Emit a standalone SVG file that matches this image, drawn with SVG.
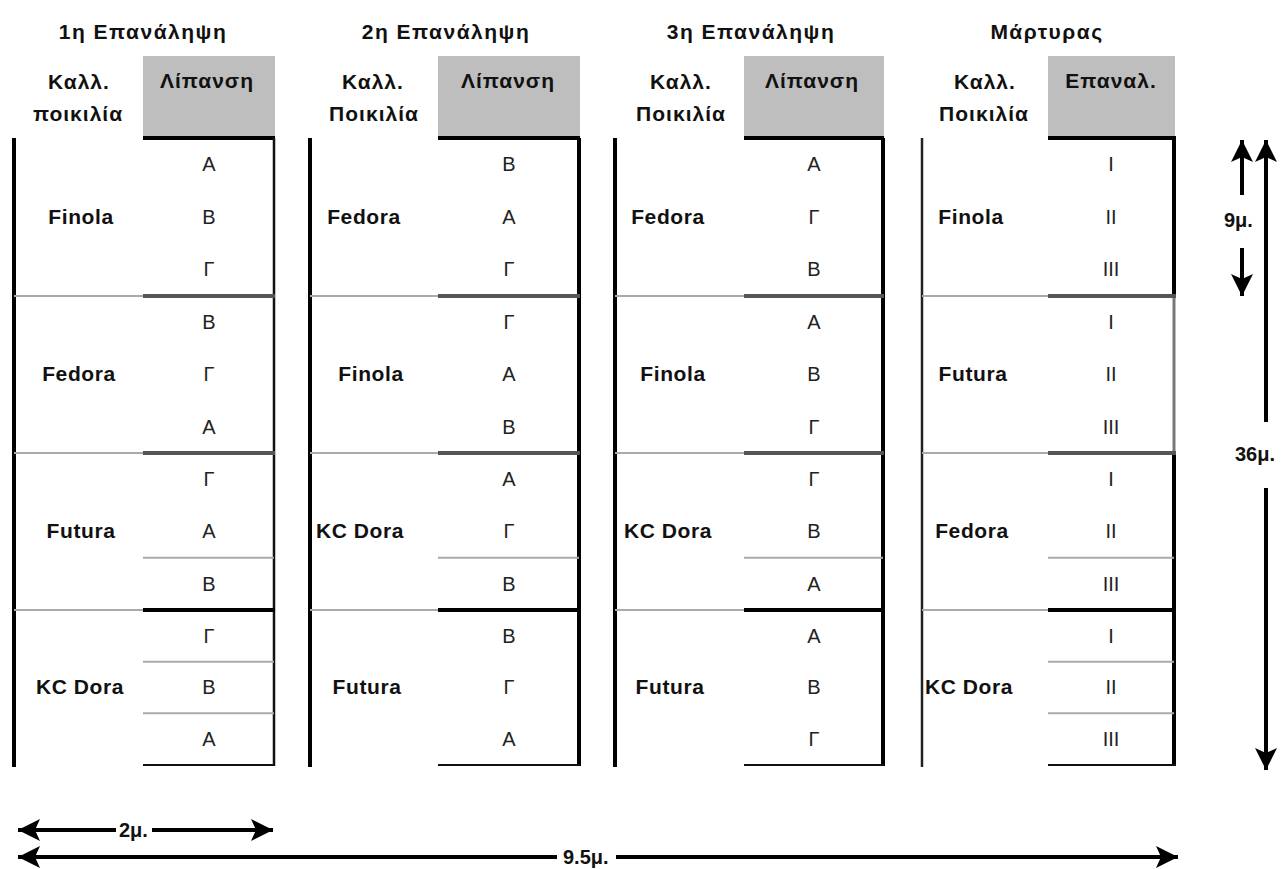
<svg xmlns="http://www.w3.org/2000/svg" width="1285" height="869" viewBox="0 0 1285 869">
<style>
.t{font-family:"Liberation Sans",Arial,sans-serif;font-weight:bold;font-size:21px;letter-spacing:1.5px;fill:#111;text-anchor:middle}
.h{font-family:"Liberation Sans",Arial,sans-serif;font-weight:bold;font-size:21px;letter-spacing:1px;fill:#111;text-anchor:middle}
.v{font-family:"Liberation Sans",Arial,sans-serif;font-weight:bold;font-size:21px;letter-spacing:0.6px;fill:#111;text-anchor:middle}
.c{font-family:"Liberation Sans",Arial,sans-serif;font-size:20px;fill:#222;text-anchor:middle}
.d{font-family:"Liberation Sans",Arial,sans-serif;font-weight:bold;font-size:20px;fill:#111}
.gray{fill:#bebebe}
.lv{stroke:#000;stroke-width:4}
.lv4{stroke:#222;stroke-width:2.5}
.top{stroke:#000;stroke-width:4}
.rt{stroke:#111;stroke-width:2.5}
.rtk{stroke:#000;stroke-width:4}
.rtg{stroke:#777;stroke-width:3}
.sepv{stroke:#aaa;stroke-width:2}
.sepd{stroke:#555;stroke-width:4}
.sepk{stroke:#000;stroke-width:4}
.row{stroke:#aaa;stroke-width:2}
.bot{stroke:#111;stroke-width:2}
.arr{stroke:#000;stroke-width:4;fill:none}
</style>
<defs>
<marker id="ah" markerUnits="userSpaceOnUse" markerWidth="24" markerHeight="24" refX="22" refY="11" orient="auto">
<path d="M0,0 L22,11 L0,22 L5,11 Z" fill="#000"/>
</marker>
</defs>
<rect width="1285" height="869" fill="#fff"/>

<!-- Block 1 -->
<g id="block1">
<text class="t" x="143" y="39">1η Επανάληψη</text>
<text class="h" x="79" y="89">Καλλ.</text>
<text class="h" x="78" y="121">ποικιλία</text>
<rect class="gray" x="143" y="56" width="132" height="82"/>
<text class="h" x="207" y="88">Λίπανση</text>
<line class="lv" x1="14" y1="138" x2="14" y2="767"/>
<line class="top" x1="143" y1="138" x2="275" y2="138"/>
<line class="rt" x1="274" y1="138" x2="274" y2="766"/>
<line class="sepv" x1="14" y1="296" x2="143" y2="296"/><line class="sepd" x1="143" y1="296" x2="275" y2="296"/>
<line class="sepv" x1="14" y1="453" x2="143" y2="453"/><line class="sepd" x1="143" y1="453" x2="275" y2="453"/>
<line class="sepv" x1="14" y1="610" x2="143" y2="610"/><line class="sepk" x1="143" y1="610" x2="275" y2="610"/>
<line class="row" x1="143" y1="557.7" x2="274" y2="557.7"/>
<line class="row" x1="143" y1="661.7" x2="274" y2="661.7"/>
<line class="row" x1="143" y1="713.3" x2="274" y2="713.3"/>
<line class="bot" x1="143" y1="765" x2="275" y2="765"/>
<text class="v" x="81" y="224">Finola</text>
<text class="v" x="79" y="381">Fedora</text>
<text class="v" x="81" y="538">Futura</text>
<text class="v" x="80" y="694">KC Dora</text>
<text class="c" x="209" y="171">Α</text><text class="c" x="209" y="224">Β</text><text class="c" x="209" y="276">Γ</text>
<text class="c" x="209" y="329">Β</text><text class="c" x="209" y="381">Γ</text><text class="c" x="209" y="434">Α</text>
<text class="c" x="209" y="486">Γ</text><text class="c" x="209" y="538">Α</text><text class="c" x="209" y="591">Β</text>
<text class="c" x="209" y="643">Γ</text><text class="c" x="209" y="694">Β</text><text class="c" x="209" y="746">Α</text>
</g>

<!-- Block 2 -->
<g id="block2">
<text class="t" x="446" y="39">2η Επανάληψη</text>
<text class="h" x="373" y="89">Καλλ.</text>
<text class="h" x="374" y="121">Ποικιλία</text>
<rect class="gray" x="438" y="56" width="142" height="82"/>
<text class="h" x="508" y="88">Λίπανση</text>
<line class="lv" x1="310" y1="138" x2="310" y2="767"/>
<line class="top" x1="438" y1="138" x2="580" y2="138"/>
<line class="rtk" x1="579" y1="138" x2="579" y2="766"/>
<line class="sepv" x1="310" y1="296" x2="438" y2="296"/><line class="sepd" x1="438" y1="296" x2="580" y2="296"/>
<line class="sepv" x1="310" y1="453" x2="438" y2="453"/><line class="sepd" x1="438" y1="453" x2="580" y2="453"/>
<line class="sepv" x1="310" y1="610" x2="438" y2="610"/><line class="sepk" x1="438" y1="610" x2="580" y2="610"/>
<line class="row" x1="438" y1="557.7" x2="579" y2="557.7"/>
<line class="bot" x1="438" y1="765" x2="580" y2="765"/>
<text class="v" x="364" y="224">Fedora</text>
<text class="v" x="371" y="381">Finola</text>
<text class="v" x="360" y="538">KC Dora</text>
<text class="v" x="367" y="694">Futura</text>
<text class="c" x="509" y="171">Β</text><text class="c" x="509" y="224">Α</text><text class="c" x="509" y="276">Γ</text>
<text class="c" x="509" y="329">Γ</text><text class="c" x="509" y="381">Α</text><text class="c" x="509" y="434">Β</text>
<text class="c" x="509" y="486">Α</text><text class="c" x="509" y="538">Γ</text><text class="c" x="509" y="591">Β</text>
<text class="c" x="509" y="643">Β</text><text class="c" x="509" y="694">Γ</text><text class="c" x="509" y="746">Α</text>
</g>

<!-- Block 3 -->
<g id="block3">
<text class="t" x="751" y="39">3η Επανάληψη</text>
<text class="h" x="681" y="89">Καλλ.</text>
<text class="h" x="681" y="121">Ποικιλία</text>
<rect class="gray" x="744" y="56" width="140" height="82"/>
<text class="h" x="812" y="88">Λίπανση</text>
<line class="lv" x1="615" y1="138" x2="615" y2="767"/>
<line class="top" x1="744" y1="138" x2="884" y2="138"/>
<line class="rtk" x1="883" y1="138" x2="883" y2="766"/>
<line class="sepv" x1="615" y1="296" x2="744" y2="296"/><line class="sepd" x1="744" y1="296" x2="884" y2="296"/>
<line class="sepv" x1="615" y1="453" x2="744" y2="453"/><line class="sepd" x1="744" y1="453" x2="884" y2="453"/>
<line class="sepv" x1="615" y1="610" x2="744" y2="610"/><line class="sepk" x1="744" y1="610" x2="884" y2="610"/>
<line class="row" x1="744" y1="557.7" x2="883" y2="557.7"/>
<line class="bot" x1="744" y1="765" x2="884" y2="765"/>
<text class="v" x="668" y="224">Fedora</text>
<text class="v" x="673" y="381">Finola</text>
<text class="v" x="668" y="538">KC Dora</text>
<text class="v" x="670" y="694">Futura</text>
<text class="c" x="814" y="171">Α</text><text class="c" x="814" y="224">Γ</text><text class="c" x="814" y="276">Β</text>
<text class="c" x="814" y="329">Α</text><text class="c" x="814" y="381">Β</text><text class="c" x="814" y="434">Γ</text>
<text class="c" x="814" y="486">Γ</text><text class="c" x="814" y="538">Β</text><text class="c" x="814" y="591">Α</text>
<text class="c" x="814" y="643">Α</text><text class="c" x="814" y="694">Β</text><text class="c" x="814" y="746">Γ</text>
</g>

<!-- Block 4 -->
<g id="block4">
<text class="t" x="1047" y="39">Μάρτυρας</text>
<text class="h" x="985" y="89">Καλλ.</text>
<text class="h" x="984" y="121">Ποικιλία</text>
<rect class="gray" x="1048" y="56" width="127" height="82"/>
<text class="h" x="1111" y="88">Επαναλ.</text>
<line class="lv4" x1="922" y1="138" x2="922" y2="767"/>
<line class="top" x1="1048" y1="138" x2="1176" y2="138"/>
<line class="rtk" x1="1174" y1="138" x2="1174" y2="296"/>
<line class="rtg" x1="1174" y1="296" x2="1174" y2="453"/>
<line class="rtk" x1="1174" y1="453" x2="1174" y2="766"/>
<line class="sepv" x1="922" y1="296" x2="1048" y2="296"/><line class="sepd" x1="1048" y1="296" x2="1176" y2="296"/>
<line class="sepv" x1="922" y1="453" x2="1048" y2="453"/><line class="sepd" x1="1048" y1="453" x2="1176" y2="453"/>
<line class="sepv" x1="922" y1="610" x2="1048" y2="610"/><line class="sepk" x1="1048" y1="610" x2="1176" y2="610"/>
<line class="row" x1="1048" y1="557.7" x2="1174" y2="557.7"/>
<line class="row" x1="1048" y1="661.7" x2="1174" y2="661.7"/>
<line class="row" x1="1048" y1="713.3" x2="1174" y2="713.3"/>
<line class="bot" x1="1048" y1="765" x2="1176" y2="765"/>
<text class="v" x="971" y="224">Finola</text>
<text class="v" x="973" y="381">Futura</text>
<text class="v" x="972" y="538">Fedora</text>
<text class="v" x="969" y="694">KC Dora</text>
<text class="c" x="1111" y="171">I</text><text class="c" x="1111" y="224">II</text><text class="c" x="1111" y="276">III</text>
<text class="c" x="1111" y="329">I</text><text class="c" x="1111" y="381">II</text><text class="c" x="1111" y="434">III</text>
<text class="c" x="1111" y="486">I</text><text class="c" x="1111" y="538">II</text><text class="c" x="1111" y="591">III</text>
<text class="c" x="1111" y="643">I</text><text class="c" x="1111" y="694">II</text><text class="c" x="1111" y="746">III</text>
</g>

<!-- Dimension connectors -->
<g id="connectors">
<line class="arr" x1="1242" y1="195" x2="1242" y2="140" marker-end="url(#ah)"/>
<line class="arr" x1="1242" y1="248" x2="1242" y2="296" marker-end="url(#ah)"/>
<line class="arr" x1="1266" y1="422" x2="1266" y2="140" marker-end="url(#ah)"/>
<line class="arr" x1="1266" y1="488" x2="1266" y2="770" marker-end="url(#ah)"/>
<line class="arr" x1="116" y1="830" x2="18" y2="830" marker-end="url(#ah)"/>
<line class="arr" x1="152" y1="830" x2="273" y2="830" marker-end="url(#ah)"/>
<line class="arr" x1="557" y1="857" x2="18" y2="857" marker-end="url(#ah)"/>
<line class="arr" x1="616" y1="857" x2="1178" y2="857" marker-end="url(#ah)"/>
<text class="d" x="1224" y="227">9μ.</text>
<text class="d" x="1235" y="461">36μ.</text>
<text class="d" x="119" y="837">2μ.</text>
<text class="d" x="563" y="864">9.5μ.</text>
</g>
</svg>
